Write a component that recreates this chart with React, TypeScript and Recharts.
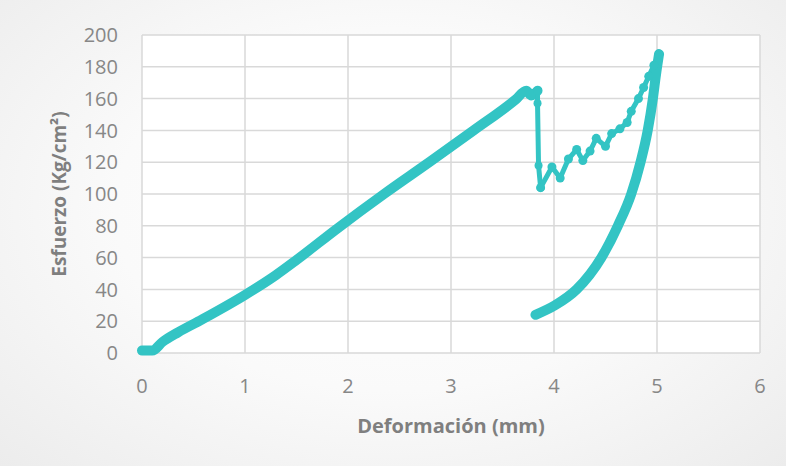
import { LineChart, Line, XAxis, YAxis, CartesianGrid } from "recharts";

// Esfuerzo vs deformación (ensayo a compresión)
const loadingX = [0, 0.1, 0.2, 0.35, 0.58, 1.0, 1.3, 1.5, 1.9, 2.35, 2.8, 3.22, 3.63, 3.73, 3.78, 3.84];
const loadingY = [1.5, 1.5, 7, 13, 21, 36.5, 49, 58.5, 78.5, 100, 120.5, 140, 159.5, 165, 162, 165];

const dropX = [3.84, 3.84, 3.85, 3.87];
const dropY = [165, 157, 118, 104];

const crackingX = [3.87, 3.98, 4.06, 4.14, 4.22, 4.28, 4.35, 4.41, 4.5, 4.56, 4.64, 4.71, 4.75, 4.82, 4.87, 4.92, 4.97, 5.02];
const crackingY = [104, 117, 110, 122, 128, 121, 127, 135, 130, 138, 141, 145, 152, 160, 167, 174, 181, 188];

const unloadingX = [3.82, 4.01, 4.22, 4.46, 4.62, 4.75, 4.84, 4.91, 4.96, 4.99, 5.02];
const unloadingY = [24, 30, 40, 60, 80, 100, 120, 140, 160, 175, 188];

const xTicks = [0, 1, 2, 3, 4, 5, 6];
const yTicks = [0, 20, 40, 60, 80, 100, 120, 140, 160, 180, 200];

const toPoints = (xs: number[], ys: number[]) => xs.map((x, i) => ({ x, y: ys[i] }));

const loading = toPoints(loadingX, loadingY);
const drop = toPoints(dropX, dropY);
const cracking = toPoints(crackingX, crackingY);
const unloading = toPoints(unloadingX, unloadingY);

const COLOR = "#33c4c4";
const FONT = "'Open Sans', sans-serif";
const tickStyle = { fill: "#878787", fontSize: 20, fontFamily: FONT };
const xTitleStyle = { fill: "#7f7f7f", fontSize: 20, fontWeight: 700, fontFamily: FONT, textAnchor: "middle" as const };
const yTitleStyle = { ...xTitleStyle, fontSize: 19 };

export default function App() {
  return (
    <div
      style={{
        position: "absolute",
        top: 0,
        left: 0,
        width: 786,
        height: 466,
        background: "radial-gradient(ellipse at 50% 45%, #ffffff 0%, #fafafa 50%, #ececec 100%)",
      }}
    >
      <LineChart width={786} height={466} margin={{ top: 35, right: 26, bottom: 28, left: 0 }}>
        <CartesianGrid stroke="#d9d9d9" strokeWidth={1.5} fill="#ffffff" />
        <XAxis
          type="number"
          dataKey="x"
          domain={[0, 6]}
          ticks={xTicks}
          axisLine={false}
          tickLine={false}
          tickMargin={20}
          tick={tickStyle}
          height={85}
          label={{ value: "Deformación (mm)", position: "insideBottom", offset: 5, style: xTitleStyle }}
        />
        <YAxis
          type="number"
          dataKey="y"
          domain={[0, 200]}
          ticks={yTicks}
          axisLine={false}
          tickLine={false}
          tickMargin={18}
          tick={tickStyle}
          width={142}
          label={{ value: "Esfuerzo (Kg/cm²)", angle: -90, position: "insideLeft", offset: 59, style: yTitleStyle }}
        />
        <Line
          data={loading}
          dataKey="y"
          type="monotone"
          stroke={COLOR}
          strokeWidth={10}
          strokeLinejoin="round"
          strokeLinecap="round"
          dot={false}
          isAnimationActive={false}
        />
        <Line
          data={drop}
          dataKey="y"
          stroke={COLOR}
          strokeWidth={5}
          dot={{ r: 4, fill: COLOR, stroke: "none" }}
          isAnimationActive={false}
        />
        <Line
          data={cracking}
          dataKey="y"
          stroke={COLOR}
          strokeWidth={5}
          strokeLinejoin="round"
          dot={{ r: 4.5, fill: COLOR, stroke: "none" }}
          isAnimationActive={false}
        />
        <Line
          data={unloading}
          dataKey="y"
          type="monotone"
          stroke={COLOR}
          strokeWidth={10}
          strokeLinejoin="round"
          strokeLinecap="round"
          dot={false}
          isAnimationActive={false}
        />
      </LineChart>
    </div>
  );
}
